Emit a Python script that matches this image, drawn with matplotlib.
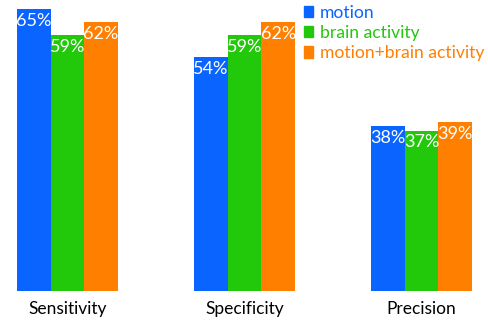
import numpy as np
import matplotlib
matplotlib.use("Agg")
import matplotlib.pyplot as plt
from matplotlib.patches import Patch

# scores per metric, in percent
metrics = ["Sensitivity", "Specificity", "Precision"]
motion = [65, 54, 38]
brain = [59, 59, 37]
combined = [62, 62, 39]

series_names = ["motion", "brain activity", "motion+brain activity"]
colors = ["#0a64ff", "#22c80a", "#ff7f00"]

plt.rcParams["font.family"] = ["Lato", "DejaVu Sans"]

fig = plt.figure(figsize=(4.89, 3.20), dpi=100)
ax = fig.add_axes([0, 29 / 320, 1, 291 / 320])

x = np.arange(len(metrics))
width = 0.19
for i, (vals, col) in enumerate(zip([motion, brain, combined], colors)):
    pos = x + (i - 1) * width
    ax.bar(pos, vals, width=width, color=col, linewidth=0)
    for p, v in zip(pos, vals):
        ax.text(p, v - 0.9, f"{v}%", color="white", ha="center", va="top",
                fontsize=13)

ax.set_xlim(-0.381, 2.381)
ax.set_ylim(0, 67.1)
ax.set_yticks([])
ax.set_xticks(x)
ax.set_xticklabels(metrics, fontsize=12.5)
ax.tick_params(axis="x", length=0, pad=7.5)
for s in ax.spines.values():
    s.set_visible(False)

handles = [Patch(color=c, label=n) for c, n in zip(colors, series_names)]
ax.legend(handles=handles, loc="upper left", bbox_to_anchor=(302 / 489, 1 - 3 / 320),
          bbox_transform=fig.transFigure, frameon=False, fontsize=12.6,
          handlelength=0.55, handleheight=0.6, handletextpad=0.35,
          labelspacing=0.24, borderpad=0.1, borderaxespad=0,
          labelcolor=colors)

fig.savefig("out.png", dpi=100)
